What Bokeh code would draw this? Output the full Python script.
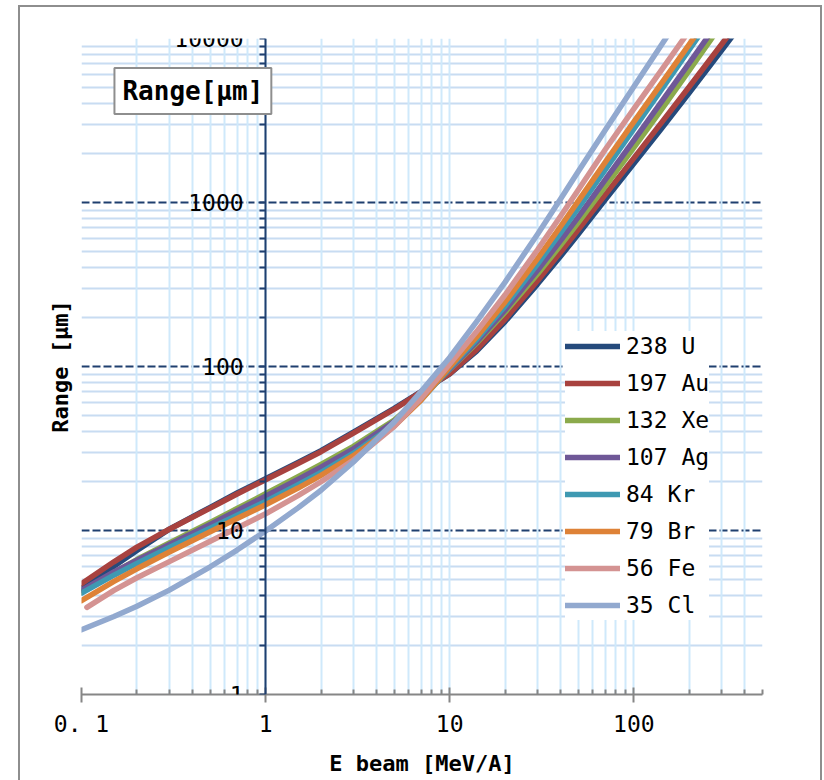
from bokeh.plotting import figure
from bokeh.models import LogAxis, FixedTicker, Legend, LegendItem, Label
from bokeh.embed import file_html
from bokeh.resources import INLINE

# ---------------- data ----------------
energy = [0.1, 0.15, 0.2, 0.3, 0.5, 0.7, 1, 1.5, 2, 3, 5, 7, 10, 14, 20, 30, 40, 50, 70, 100, 140, 200, 300, 400]
energy_fe = [0.107, 0.15, 0.2, 0.3, 0.5, 0.7, 1, 1.5, 2, 3, 5, 7, 10, 14, 20, 30, 40, 50, 70, 100, 140, 200]

range_U  = [4.43, 6.05, 7.55, 10.2, 13.85, 16.95, 20.7, 26.0, 30.7, 39.8, 55.5, 70.3, 90, 124, 188, 318, 470, 643, 1043, 1730, 2790, 4660, 8460, 13000]
range_Au = [4.73, 6.44, 7.92, 10.18, 13.69, 16.70, 20.39, 25.59, 30.23, 39.20, 54.9, 69.97, 90.4, 126.6, 194.2, 333, 498, 685, 1116, 1866, 3029, 5081, 9222, 14200]
range_Xe = [4.2, 5.53, 6.65, 8.41, 11.20, 13.61, 16.74, 21.26, 25.26, 32.6, 47.1, 65.5, 95.9, 138.9, 214.6, 366, 548, 757, 1255, 2158, 3636, 6388, 12220]
range_Ag = [4.31, 5.59, 6.58, 8.23, 10.90, 13.20, 16.18, 20.46, 24.32, 31.5, 46.2, 64.7, 96.2, 141.2, 221.3, 386, 586, 818, 1378, 2394, 4047, 7084, 13440]
range_Kr = [4.15, 5.34, 6.30, 7.88, 10.33, 12.39, 15.02, 19.0, 22.64, 29.6, 44.1, 62.7, 97.6, 146.1, 234, 422, 653, 927, 1586, 2806, 4809, 8540, 16480]
range_Br = [3.74, 4.89, 5.84, 7.39, 9.83, 11.83, 14.35, 18.15, 21.70, 28.6, 43.4, 62.5, 99.3, 151.3, 247.5, 455, 714, 1023, 1764, 3098, 5255, 9199, 17610]
range_Fe = [3.40, 4.31, 5.15, 6.46, 8.60, 10.35, 12.64, 16.31, 19.83, 26.88, 43.2, 64.1, 103.7, 163.3, 273.8, 515, 824, 1196, 2104, 3723, 6332, 11130]
range_Cl = [2.48, 2.99, 3.45, 4.33, 6.01, 7.60, 9.93, 13.74, 17.60, 26.18, 45.9, 70.6, 113.5, 188, 327, 641, 1050, 1552, 2769, 5077, 8995, 16500]

series_names = ["238 U", "197 Au", "132 Xe", "107 Ag", "84 Kr", "79 Br", "56 Fe", "35 Cl"]
series_ranges = [range_U, range_Au, range_Xe, range_Ag, range_Kr, range_Br, range_Fe, range_Cl]
series_energy = [energy, energy, energy, energy, energy, energy, energy_fe, energy]
series_colors = ["#254A7C", "#A8423F", "#8BAA4C", "#6F5897", "#3E99B2", "#DE8237", "#D49392", "#92A9CF"]

x_tick_values = [0.1, 1, 10, 100]
x_tick_labels = ["0. 1", "1", "10", "100"]
y_tick_values = [1, 10, 100, 1000, 10000]
y_tick_labels = ["1", "10", "100", "1000", "10000"]

x_title = "E beam [MeV/A]"
y_title = "Range [μm]"
box_title = "Range[μm]"

FONT = "DejaVu Sans Mono"

# ---------------- figure ----------------
p = figure(width=804, height=775, x_axis_type="log", y_axis_type="log",
           x_range=(0.1, 500), y_range=(1, 10000),
           output_backend="svg", toolbar_location=None,
           min_border_left=63, min_border_right=60, min_border_top=33, min_border_bottom=86,
           margin=(5, 0, 0, 18), border_fill_color=None,
           styles={"box-shadow": "inset 2px 2px 0 #8e8e8e, inset -2px 0 0 #8e8e8e"})
p.outline_line_color = None
p.background_fill_color = "white"

x_minor = [m * 10.0 ** k for k in (-1, 0, 1) for m in range(2, 10)] + [200, 300, 400, 500]
y_minor = [m * 10.0 ** k for k in (0, 1, 2, 3) for m in range(2, 10)]

# grids
p.xgrid.ticker = FixedTicker(ticks=x_tick_values, minor_ticks=x_minor)
p.xgrid.grid_line_color = "#CFE9FB"
p.xgrid.grid_line_width = 2
p.xgrid.minor_grid_line_color = "#CFE9FB"
p.xgrid.minor_grid_line_width = 2

p.ygrid.ticker = FixedTicker(ticks=y_tick_values, minor_ticks=y_minor)
p.ygrid.grid_line_color = "#1F3F6F"
p.ygrid.grid_line_width = 2
p.ygrid.grid_line_dash = "8 3"
p.ygrid.minor_grid_line_color = "#C8DCF2"
p.ygrid.minor_grid_line_width = 2

# x axis (bottom)
xa = p.xaxis[0]
xa.ticker = FixedTicker(ticks=x_tick_values, minor_ticks=x_minor)
xa.major_label_overrides = dict(zip(x_tick_values, x_tick_labels))
xa.axis_line_color = "#868686"
xa.axis_line_width = 2
xa.major_tick_line_color = "#868686"
xa.major_tick_line_width = 2
xa.major_tick_in = 7
xa.major_tick_out = 8
xa.minor_tick_line_color = "#868686"
xa.minor_tick_line_width = 2
xa.minor_tick_in = 5
xa.minor_tick_out = 0
xa.major_label_text_font = FONT
xa.major_label_text_font_size = "23px"
xa.major_label_text_color = "black"
xa.major_label_standoff = 8
xa.axis_label = x_title
xa.axis_label_text_font = FONT
xa.axis_label_text_font_size = "22px"
xa.axis_label_text_font_style = "bold"
xa.axis_label_text_color = "black"
xa.axis_label_standoff = 11

# y axis crossing at E = 1
ya = p.yaxis[0]
ya.fixed_location = 1
ya.ticker = FixedTicker(ticks=y_tick_values, minor_ticks=y_minor)
ya.major_label_overrides = dict(zip(y_tick_values, y_tick_labels))
ya.axis_line_color = "#1F3F6F"
ya.axis_line_width = 2
ya.major_tick_line_color = "#1F3F6F"
ya.major_tick_line_width = 2
ya.major_tick_in = 0
ya.major_tick_out = 6
ya.minor_tick_line_color = "#1F3F6F"
ya.minor_tick_line_width = 2
ya.minor_tick_in = 0
ya.minor_tick_out = 6
ya.major_label_text_font = FONT
ya.major_label_text_font_size = "23px"
ya.major_label_text_color = "black"
ya.major_label_standoff = 16
ya.axis_label = None

# y title on its own axis at the left edge
ta = LogAxis(ticker=FixedTicker(ticks=[]), axis_label=y_title,
             axis_line_color=None, major_tick_line_color=None, minor_tick_line_color=None,
             major_label_text_font_size="0px",
             axis_label_text_font=FONT, axis_label_text_font_size="22px",
             axis_label_text_font_style="bold", axis_label_text_color="black",
             axis_label_standoff=9)
p.add_layout(ta, "left")

# vertical grid drawn above horizontal grid
others = [r for r in p.center if r not in (p.xgrid[0], p.ygrid[0])]
p.center = [p.ygrid[0], p.xgrid[0]] + others

# curves
items = []
for name, xs, ys, col in zip(series_names, series_energy, series_ranges, series_colors):
    r = p.line(xs[:len(ys)], ys, line_color=col, line_width=5.5, line_cap="round", line_join="round")
    items.append(LegendItem(label=name, renderers=[r]))

legend = Legend(items=items, location=(484, 74),
                label_text_font=FONT, label_text_font_size="23px", label_text_color="black",
                glyph_width=55, glyph_height=30, label_height=30, spacing=7, padding=3,
                label_standoff=6, border_line_color=None,
                background_fill_color="white", background_fill_alpha=1)
p.add_layout(legend, "center")

# boxed title
lab = Label(x=0.151, y=4786, text=box_title, text_align="left", text_baseline="middle",
            text_font=FONT, text_font_size="26px", text_font_style="bold",
            text_color="black", padding=8,
            border_line_color="#8e8e8e", border_line_width=2,
            background_fill_color="white", background_fill_alpha=1)
p.add_layout(lab)

open("out.html", "w").write(file_html(p, INLINE))
